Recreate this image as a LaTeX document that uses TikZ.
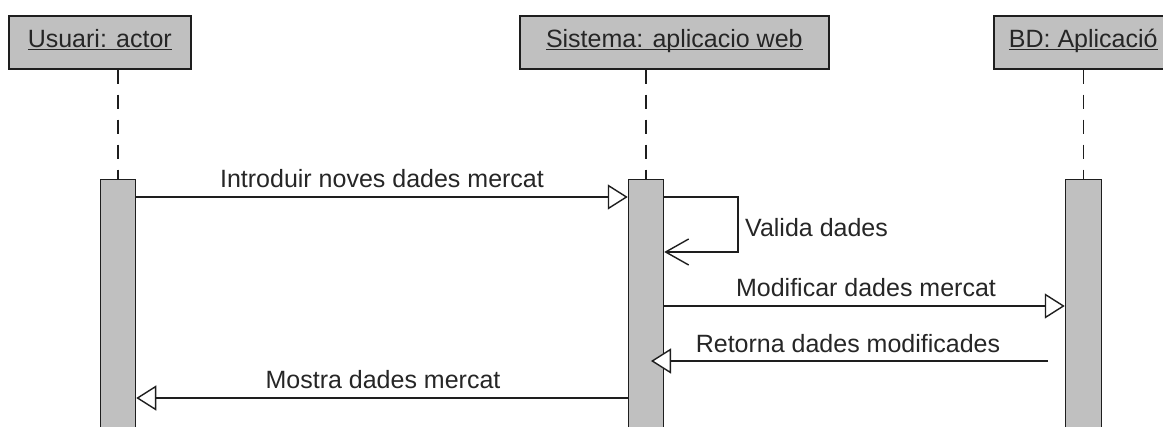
\documentclass[tikz,border=0pt]{standalone}
\usepackage{fontspec}
\setmainfont{Liberation Sans}
\usetikzlibrary{arrows.meta}
\definecolor{boxgray}{HTML}{C0C0C0}
\definecolor{ink}{HTML}{1E1E1E}
\definecolor{txt}{HTML}{262626}
\newcommand\ulabel[1]{\underline{\raisebox{0pt}[\height][0pt]{#1}}}
\begin{document}
\begin{tikzpicture}[x=1pt,y=-1pt,
  every node/.style={font=\fontsize{25}{30}\selectfont, text=txt},
  header/.style={draw=ink, line width=1.6pt, fill=boxgray, inner sep=0pt,
    minimum height=53pt, anchor=north west, text height=18pt, text depth=7pt},
  actbar/.style={draw=ink, line width=1.5pt, fill=boxgray, inner sep=0pt,
    minimum width=35pt, minimum height=270pt, anchor=north},
  life/.style={draw=ink, line width=1.4pt, dash pattern=on 14pt off 11pt},
  msg/.style={draw=ink, line width=1.4pt,
    -{Triangle[open, fill=white, length=20pt, width=25pt, line width=1.4pt]}},
  selfmsg/.style={draw=ink, line width=1.4pt,
    -{Straight Barb[length=23pt, width=26pt, line width=1.4pt]}},
  lbl/.style={anchor=base, inner sep=0pt},
]
\useasboundingbox (0,0) rectangle (1163,427);
\clip (0,0) rectangle (1163,427);
\fill[white] (0,0) rectangle (1163,427);

% headers
\node[header, minimum width=182pt] (uhead) at (8,15) {\ulabel{Usuari: actor}};
\node[header, minimum width=309pt] (shead) at (519,15) {\ulabel{Sistema: aplicacio web}};
\node[header, minimum width=179pt] (bhead) at (993,15) {\ulabel{BD: Aplicació}};

% activation bars
\node[actbar] (ubar) at (118,179) {};
\node[actbar] (sbar) at (646,179) {};
\node[actbar, minimum width=36pt] (bbar) at (1083.5,179) {};

% lifelines
\draw[life] (ubar.north |- uhead.south) -- (ubar.north);
\draw[life] (sbar.north |- shead.south) -- (sbar.north);
\draw[life] (bbar.north |- bhead.south) -- (bbar.north);

% message levels
\coordinate (y1) at (0,197);
\coordinate (yv) at (0,252);
\coordinate (xv) at (738,0);
\coordinate (y2) at (0,306);
\coordinate (y3) at (0,361);
\coordinate (r3) at (1048,361);
\coordinate (t3) at (651,361);
\coordinate (y4) at (0,398);

% messages
\draw[msg] (ubar.east |- y1) -- (sbar.west |- y1);
\node[lbl] (l1) at (382,188) {Introduir noves dades mercat};

\draw[selfmsg] (sbar.east |- y1) -- (xv |- y1) -- (xv |- yv) -- (sbar.east |- yv);
\node[lbl, anchor=base west] (lv) at (745,237) {Valida dades};

\draw[msg] (sbar.east |- y2) -- (bbar.west |- y2);
\node[lbl] (l2) at (866,297) {Modificar dades mercat};

\draw[msg] (r3) -- (t3);
\node[lbl] (l3) at (848,353) {Retorna dades modificades};

\draw[msg] (sbar.west |- y4) -- (ubar.east |- y4);
\node[lbl] (l4) at (383,389) {Mostra dades mercat};
\end{tikzpicture}
\end{document}
